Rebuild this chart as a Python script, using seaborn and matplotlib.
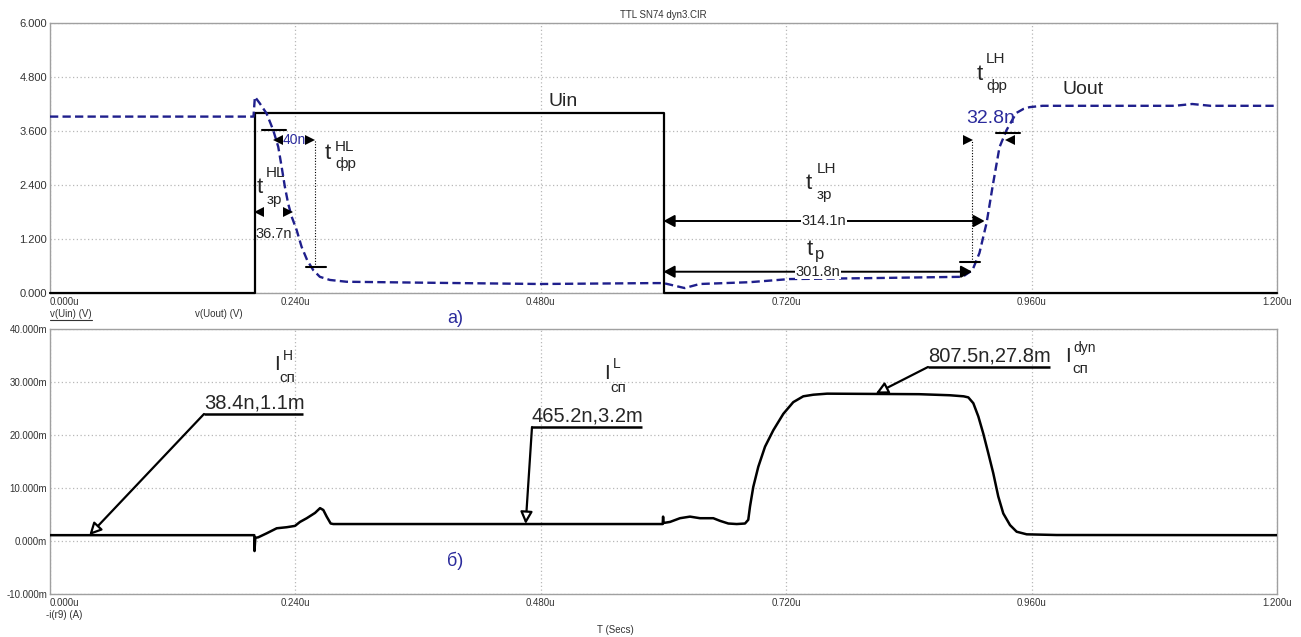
import numpy as np
import pandas as pd
import matplotlib
matplotlib.use("Agg")
import matplotlib.pyplot as plt
from matplotlib import transforms
from matplotlib.lines import Line2D
import seaborn as sns

# ---------------- data ----------------
# input pulse v(Uin), V  (time in microseconds)
uin_t = [0.000, 0.200, 0.200, 0.600, 0.600, 1.200]
uin_v = [0.000, 0.000, 4.000, 4.000, 0.000, 0.000]

# output v(Uout), V
uout_t = [0.000, 0.199, 0.2004, 0.205, 0.2118, 0.2183, 0.2232, 0.2265, 0.2297,
          0.2329, 0.2363, 0.2412, 0.2460, 0.2515, 0.2574, 0.2639, 0.2737, 0.290,
          0.362, 0.480, 0.590, 0.600, 0.6207, 0.6354, 0.684, 0.7234, 0.800,
          0.8925, 0.9022, 0.909, 0.916, 0.9218, 0.9286, 0.9355, 0.945, 0.952,
          0.958, 0.9707, 1.100, 1.117, 1.135, 1.200]
uout_v = [3.92, 3.92, 4.36, 4.22, 3.99, 3.62, 3.25, 2.81, 2.36,
          1.99, 1.70, 1.40, 1.03, 0.73, 0.51, 0.36, 0.29, 0.25,
          0.23, 0.20, 0.22, 0.22, 0.11, 0.20, 0.24, 0.31, 0.33,
          0.36, 0.51, 0.89, 1.56, 2.36, 3.24, 3.62, 4.00, 4.09,
          4.13, 4.16, 4.16, 4.20, 4.16, 4.16]

# supply current -i(r9), mA
isup_t = [0.000, 0.1998, 0.2000, 0.2008, 0.2037, 0.2119, 0.2217, 0.2315, 0.2396,
          0.2445, 0.2511, 0.2592, 0.2641, 0.2673, 0.2706, 0.2745, 0.2771, 0.5992,
          0.5996, 0.6000, 0.6064, 0.6161, 0.6259, 0.6357, 0.6487, 0.6553, 0.6634,
          0.6716, 0.6797, 0.6829, 0.6846, 0.6878, 0.6927, 0.6993, 0.7074, 0.7172,
          0.7269, 0.7367, 0.7465, 0.7600, 0.8500, 0.8800, 0.8935, 0.8981, 0.9030,
          0.9079, 0.9127, 0.9176, 0.9225, 0.9274, 0.9323, 0.9389, 0.9454, 0.9552,
          0.9845, 1.200]
isup_ma = [1.1, 1.1, -1.9, 0.6, 0.7, 1.45, 2.4, 2.6, 2.85,
           3.6, 4.3, 5.3, 6.2, 5.85, 4.6, 3.3, 3.2, 3.2,
           4.6, 3.4, 3.6, 4.3, 4.6, 4.3, 4.3, 3.8, 3.3,
           3.2, 3.3, 4.0, 6.5, 10.2, 14.0, 17.8, 20.9, 24.0,
           26.2, 27.3, 27.6, 27.8, 27.7, 27.5, 27.3, 27.1, 26.0,
           23.5, 20.3, 16.6, 12.8, 8.4, 5.2, 3.0, 1.75, 1.26,
           1.13, 1.1]

# cursor readouts on the current trace
cursor_t_ns = [38.4, 465.2, 807.5]
cursor_i_ma = [1.1, 3.2, 27.8]

# switching times: start (us) and duration (ns)
# t_zr^HL, t_fr^HL, t_zr^LH, t_p, t_fr^LH
delay_start_us = [0.200, 0.219, 0.600, 0.600, 0.902]
delay_ns = [36.7, 40.0, 314.1, 301.8, 32.8]

x_ticks = [0.0, 0.24, 0.48, 0.72, 0.96, 1.2]
v_ticks = [0.0, 1.2, 2.4, 3.6, 4.8, 6.0]
i_ticks = [-10, 0, 10, 20, 30, 40]

# ---------------- style ----------------
sns.set_theme(style="white")
plt.rcParams["font.family"] = ["Liberation Sans", "DejaVu Sans"]
NAVY_LINE = "#1f1f8c"
NAVY_TEXT = "#2b2b9c"
GRID = "#b8b8b8"
TICK_TXT = "#333333"

W, H = 1301, 637
fig = plt.figure(figsize=(W / 100, H / 100), dpi=100)
fig.patch.set_facecolor("white")


def box(left, top, right, bottom):
    return [left / W, 1 - bottom / H, (right - left) / W, (bottom - top) / H]


ax1 = fig.add_axes(box(50, 23, 1277, 293))
ax2 = fig.add_axes(box(50, 329, 1277, 594))


# figure-pixel helpers (shared time axis, separate value axes)
def tp(x):
    return (x - 50) / 1022.5


def vp(y):
    return (293 - y) / 45.0


def ip(y):
    return (541 - y) / 5.3


def ptext(x, y, s, **kw):
    kw.setdefault("ha", "left")
    kw.setdefault("va", "baseline")
    return fig.text(x / W, 1 - y / H, s, **kw)


df_in = pd.DataFrame({"t": uin_t, "v": uin_v})
df_out = pd.DataFrame({"t": uout_t, "v": uout_v})
df_i = pd.DataFrame({"t": isup_t, "i": isup_ma})

sns.lineplot(data=df_in, x="t", y="v", ax=ax1, color="black", lw=1.6,
             estimator=None, sort=False, clip_on=False, zorder=3)
sns.lineplot(data=df_out, x="t", y="v", ax=ax1, color=NAVY_LINE, lw=1.7,
             estimator=None, sort=False, linestyle=(0, (3.5, 1.8)), zorder=4)
sns.lineplot(data=df_i, x="t", y="i", ax=ax2, color="black", lw=1.8,
             estimator=None, sort=False, zorder=3)

for ax, yt, fmt, ylim, ysize in ((ax1, v_ticks, "{:.3f}", (0, 6), 8),
                                 (ax2, i_ticks, "{:.3f}m", (-10, 40), 7)):
    ax.set_xlim(0, 1.2)
    ax.set_ylim(*ylim)
    ax.set_xticks(x_ticks)
    ax.set_xticklabels([f"{t:.3f}u" for t in x_ticks])
    ax.set_yticks(yt)
    ax.set_yticklabels([fmt.format(v) for v in yt])
    ax.grid(True, color=GRID, linestyle=(0, (1, 2)), linewidth=0.9)
    ax.set_axisbelow(True)
    ax.tick_params(axis="both", length=0, labelcolor=TICK_TXT)
    ax.tick_params(axis="x", pad=3, labelsize=7)
    ax.tick_params(axis="y", pad=2, labelsize=ysize)
    for sp in ax.spines.values():
        sp.set_visible(True)
        sp.set_color("#a0a0a0")
        sp.set_linewidth(1.0)
    ax.get_xticklabels()[0].set_ha("left")
    ax.set_xlabel("")
    ax.set_ylabel("")

# ---------------- timing marks on the voltage panel ----------------
ARROW2 = dict(arrowstyle="<|-|>,head_length=0.55,head_width=0.3", color="black",
              lw=1.4, shrinkA=0, shrinkB=0, mutation_scale=12)


def head(ax, t_tip, v, direction, ms=6.5):
    off = transforms.offset_copy(ax.transData, fig=fig, x=-direction * ms / 2, units="points")
    ax.plot([t_tip], [v], marker=">" if direction > 0 else "<", ms=ms, mew=0,
            color="black", transform=off, clip_on=False, zorder=6)


def level_tick(ax, t, v, half=0.0115):
    ax.plot([t - half, t + half], [v, v], color="black", lw=1.5, zorder=6)


def vdots(ax, t, v0, v1):
    ax.plot([t, t], [v0, v1], color="black", lw=0.8, linestyle=(0, (1, 1.5)), zorder=5)


labels = [f"{d:g}n" for d in delay_ns]
t0 = delay_start_us
t1 = [s + d / 1000 for s, d in zip(delay_start_us, delay_ns)]
WHITE = dict(fc="white", ec="none", pad=0.4)

# t_zr^HL
head(ax1, t0[0], 1.8, -1)
head(ax1, t1[0], 1.8, +1)
ax1.text((t0[0] + t1[0]) / 2, 1.22, labels[0], fontsize=10.5, ha="center", va="baseline")

# t_fr^HL
head(ax1, t0[1], 3.4, -1)
head(ax1, t1[1], 3.4, +1)
ax1.text((t0[1] + t1[1]) / 2, 3.4, labels[1], fontsize=10, ha="center", va="center",
         color=NAVY_TEXT, zorder=7)
level_tick(ax1, t0[1], 3.62)
level_tick(ax1, t1[1] + 0.001, 0.58, 0.0095)
vdots(ax1, t1[1], 0.58, 3.4)

# t_zr^LH
ax1.annotate("", xy=(t1[2], 1.6), xytext=(t0[2], 1.6), arrowprops=ARROW2, zorder=6)
ax1.text((t0[2] + t1[2]) / 2, 1.6, labels[2], fontsize=10.5, ha="center", va="center",
         bbox=WHITE, zorder=7)

# t_p
ax1.annotate("", xy=(t1[3], 0.473), xytext=(t0[3], 0.473), arrowprops=ARROW2, zorder=6)
ax1.text((t0[3] + t1[3]) / 2, 0.473, labels[3], fontsize=10.5, ha="center", va="center",
         bbox=WHITE, zorder=7)
level_tick(ax1, t1[3] - 0.002, 0.69, 0.0098)
vdots(ax1, t1[3], 0.69, 3.4)

# t_fr^LH
head(ax1, t0[4], 3.4, +1)
head(ax1, t1[4], 3.4, -1)
level_tick(ax1, t1[4] + 0.002, 3.56)
ptext(966, 123, labels[4], fontsize=14, color=NAVY_TEXT)

# ---------------- cursor readouts on the current panel ----------------
knots = [(204, 414, 303), (532, 427, 642), (928, 367, 1050)]
LEADER = dict(arrowstyle="-|>,head_length=0.6,head_width=0.3", fc="white", ec="black",
              lw=1.6, shrinkA=0, shrinkB=0, mutation_scale=12)
for (kx, ky, kx2), tn, im in zip(knots, cursor_t_ns, cursor_i_ma):
    ax2.annotate("", xy=(tn / 1000, im), xytext=(tp(kx), ip(ky)), arrowprops=LEADER, zorder=6)
    ax2.plot([tp(kx), tp(kx2)], [ip(ky)] * 2, color="black", lw=1.8,
             solid_capstyle="butt", zorder=6)
    ax2.text(tp(kx), ip(ky) + 1.1, f"{tn:g}n,{im:g}m", fontsize=14.5,
             ha="left", va="baseline", zorder=7)


# ---------------- symbols ----------------
def symbol(x, y, base, sup, sub, sup_xy, sub_xy, base_size=16, idx_size=11, sub_size=None):
    ptext(x, y, base, fontsize=base_size)
    if sup:
        ptext(sup_xy[0], sup_xy[1], sup, fontsize=idx_size)
    if sub:
        ptext(sub_xy[0], sub_xy[1], sub, fontsize=sub_size or idx_size)


symbol(257, 193, "t", "HL", "зр", (266, 177), (267, 204))
symbol(325, 159, "t", "HL", "фр", (335, 151), (335, 168))
symbol(806, 189, "t", "LH", "зр", (817, 173), (817, 199))
symbol(807, 255, "t", None, "р", None, (815, 259), sub_size=12)
symbol(977, 80, "t", "LH", "фр", (986, 63), (986, 90))

symbol(274, 370, "I", "H", "сп", (283, 360), (279, 382), base_size=15, idx_size=10, sub_size=11)
symbol(604, 379, "I", "L", "сп", (613, 368), (610, 392), base_size=15, idx_size=10, sub_size=11)
symbol(1065, 362, "I", "dyn", "сп", (1073, 352), (1072, 373), base_size=15, idx_size=10, sub_size=11)

ptext(548, 106, "Uin", fontsize=14)
ptext(1062, 94, "Uout", fontsize=14)
ptext(447, 323, "а)", fontsize=13, color=NAVY_TEXT)
ptext(447, 566, "б)", fontsize=13, color=NAVY_TEXT)

# ---------------- captions ----------------
ptext(663, 18, "TTL SN74 dyn3.CIR", fontsize=7, ha="center", color=TICK_TXT)
ptext(50, 317, "v(Uin) (V)", fontsize=7, color=TICK_TXT)
fig.add_artist(Line2D([50 / W, 92 / W], [1 - 320 / H] * 2, lw=0.8, color=TICK_TXT))
ptext(195, 317, "v(Uout) (V)", fontsize=7, color=TICK_TXT)
ptext(46, 618, "-i(r9) (A)", fontsize=7, color=TICK_TXT)
ptext(597, 633, "T (Secs)", fontsize=7, color=TICK_TXT)

fig.savefig("out.png", dpi=100)
